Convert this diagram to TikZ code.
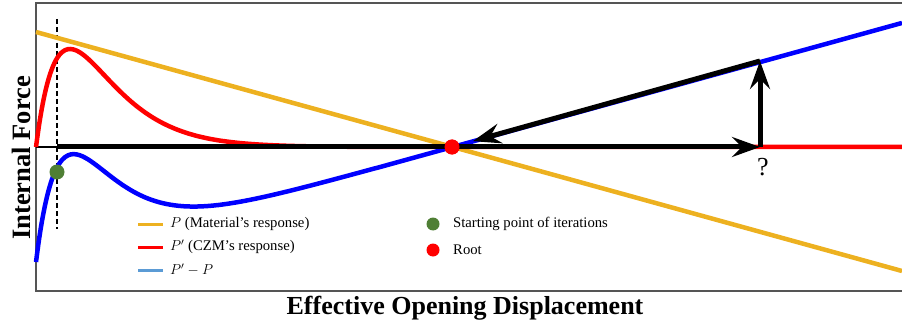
\documentclass[tikz,border=0pt]{standalone}
\usepackage{fontspec}
\setmainfont{Liberation Serif}
\usetikzlibrary{arrows.meta}
\definecolor{cyel}{HTML}{EDB120}
\definecolor{cred}{HTML}{FF0000}
\definecolor{cblu}{HTML}{0000FF}
\definecolor{cgrn}{HTML}{4F7F35}
\definecolor{clbl}{HTML}{5B9BD5}
\definecolor{cfrm}{HTML}{555555}
\tikzset{
  curve/.style={line width=4.5pt},
  bigarrow/.style={line width=5pt, -{Stealth[length=28pt,width=20pt,inset=10pt]}},
  legline/.style={line width=3pt},
  legtext/.style={anchor=west, font=\fontsize{14.7}{17}\selectfont, inner sep=0pt},
  dot/.style={circle, inner sep=0pt, minimum size=15pt},
}
\begin{document}
\begin{tikzpicture}[x=1pt,y=-1pt]
\useasboundingbox (0,0) rectangle (902,326);
% frame
\draw[cfrm, line width=1.5pt] (903,291) -- (36,291) -- (36,3) -- (903,3);
% dashed vertical
\draw[black, dash pattern=on 5pt off 3pt, line width=1.1pt] (57,19) -- (57,229);
% thin axis part
\draw[black, line width=1.2pt] (36,147) -- (57,147);
% yellow (material)
\draw[cyel, curve] (36,32) -- (902,271);
% red (CZM)
\draw[cred, curve] plot[domain=36:902, samples=300, smooth]
  (\x, {147 - 98*((\x-36)/34)*exp(1-(\x-36)/34)});
% blue (P'-P)
\draw[cblu, curve] plot[domain=36:902, samples=300, smooth]
  (\x, {262 - 0.276*(\x-36) - 98*((\x-36)/34)*exp(1-(\x-36)/34)});
% named points
\coordinate (start) at (57,147);
\coordinate (q) at (760,147);
\coordinate (up) at (760,61);
\node[dot, fill=cred] (root) at (452,147) {};
% black arrows
\draw[bigarrow] (start) -- (q);
\draw[bigarrow] (q) -- (up);
\draw[bigarrow, shorten >=14pt] (up) -- (root);
\node[dot, fill=cred] at (root) {};
\node[dot, fill=cgrn] (sp) at (57,172) {};
\node[font=\fontsize{26}{28}\selectfont, inner sep=0pt] (qm) at (763,167) {?};
% axis labels
\node[font=\bfseries\fontsize{26}{28}\selectfont, inner sep=0pt] (xl) at (465,308) {Effective Opening Displacement};
\node[font=\bfseries\fontsize{26.5}{28}\selectfont, inner sep=0pt, rotate=90] (yl) at (21,158) {Internal Force};
% legend
\coordinate (l1a) at (138,224); \coordinate (l1b) at (163,224);
\coordinate (l2a) at (138,247); \coordinate (l2b) at (163,247);
\coordinate (l3a) at (138,270); \coordinate (l3b) at (163,270);
\draw[cyel, legline] (l1a) -- (l1b);
\draw[cred, legline] (l2a) -- (l2b);
\draw[clbl, legline] (l3a) -- (l3b);
\node[legtext] (t1) at (170,224) {$P$ (Material’s response)};
\node[legtext] (t2) at (170,247) {$P'$ (CZM’s response)};
\node[legtext] (t3) at (170,270) {$P' - P$};
\node[dot, fill=cgrn, minimum size=13pt] (g1) at (433,224) {};
\node[dot, fill=cred, minimum size=13pt] (g2) at (433,250) {};
\node[legtext] (t4) at (453,224) {Starting point of iterations};
\node[legtext] (t5) at (453,250) {Root};
\end{tikzpicture}
\end{document}
